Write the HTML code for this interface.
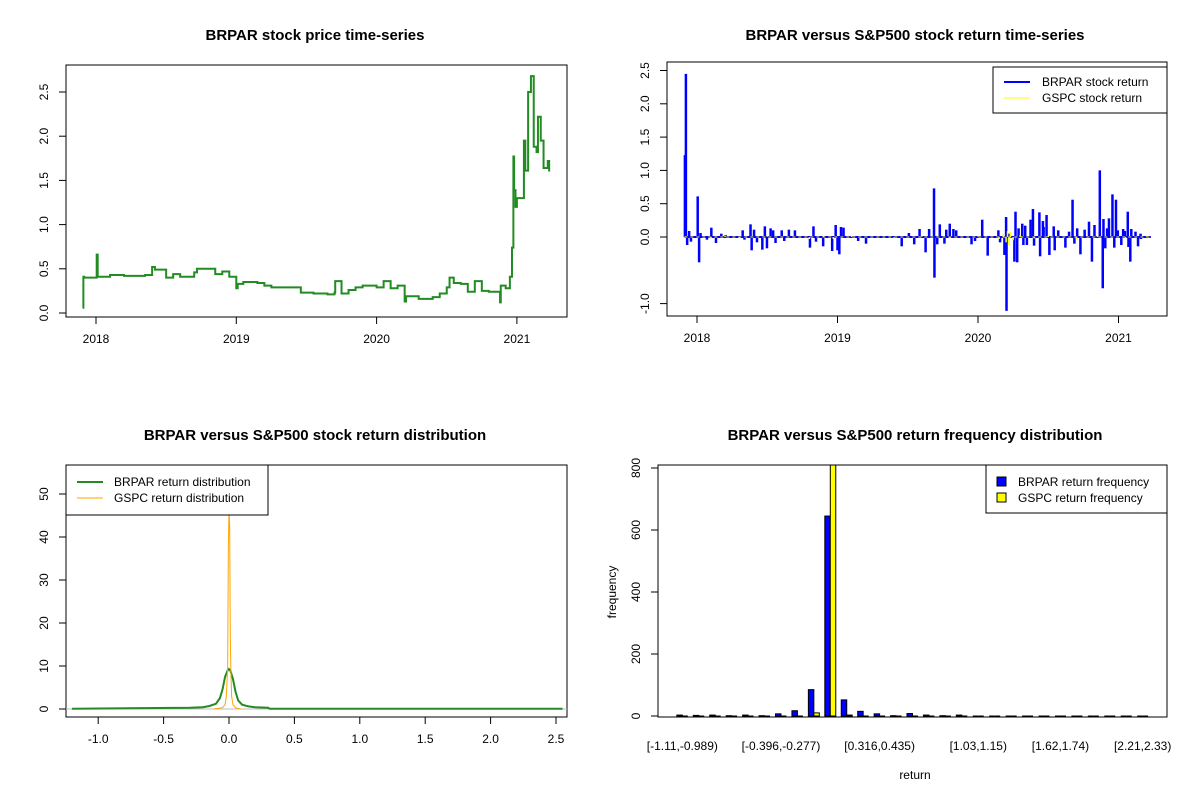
<!DOCTYPE html>
<html><head><meta charset="utf-8"><style>
body{margin:0;background:#fff}
svg{display:block;font-family:"Liberation Sans",Arial,sans-serif}
.t{font-weight:bold;font-size:15px;text-anchor:middle}
.tk{font-size:12px}
</style></head><body>
<svg id="c" width="1200" height="800" viewBox="0 0 1200 800"></svg>
<script>
// ---- Panel 1: price series
const priceYears=[2017.905,2017.91,2017.915,2018.0,2018.005,2018.012,2018.1,2018.2,2018.35,2018.4,2018.42,2018.5,2018.55,2018.6,2018.7,2018.72,2018.82,2018.85,2018.9,2018.95,2019.0,2019.01,2019.05,2019.15,2019.2,2019.25,2019.45,2019.46,2019.55,2019.65,2019.7,2019.705,2019.75,2019.8,2019.85,2019.9,2020.0,2020.05,2020.1,2020.15,2020.2,2020.21,2020.25,2020.3,2020.4,2020.45,2020.5,2020.52,2020.55,2020.6,2020.65,2020.7,2020.75,2020.8,2020.85,2020.88,2020.885,2020.92,2020.95,2020.965,2020.975,2020.98,2020.99,2021.0,2021.02,2021.05,2021.06,2021.08,2021.1,2021.12,2021.14,2021.15,2021.17,2021.19,2021.22,2021.23];
const priceVals=[0.06,0.41,0.40,0.40,0.66,0.41,0.43,0.42,0.43,0.52,0.49,0.40,0.44,0.41,0.46,0.50,0.50,0.44,0.47,0.41,0.28,0.33,0.35,0.34,0.31,0.29,0.29,0.23,0.22,0.21,0.23,0.36,0.22,0.26,0.29,0.31,0.29,0.36,0.28,0.31,0.13,0.19,0.19,0.16,0.18,0.22,0.29,0.40,0.34,0.33,0.24,0.36,0.25,0.24,0.24,0.12,0.31,0.28,0.41,0.74,1.77,1.39,1.20,1.30,1.30,1.95,1.61,2.50,2.68,1.88,1.82,2.22,1.95,1.64,1.72,1.60];
const priceYTicks=[0,0.5,1,1.5,2,2.5];
const yearTicks=[2018,2019,2020,2021];
// ---- Panel 2: returns
const retYears=[2017.914,2017.921,2017.93,2017.944,2017.957,2018.005,2018.015,2018.025,2018.071,2018.102,2018.135,2018.173,2018.203,2018.325,2018.338,2018.381,2018.389,2018.406,2018.427,2018.465,2018.483,2018.498,2018.524,2018.542,2018.559,2018.603,2018.621,2018.654,2018.697,2018.804,2018.829,2018.847,2018.898,2018.962,2018.987,2019.0,2019.013,2019.025,2019.043,2019.147,2019.203,2019.457,2019.508,2019.546,2019.584,2019.627,2019.652,2019.687,2019.690,2019.710,2019.728,2019.761,2019.774,2019.799,2019.825,2019.845,2019.954,2019.979,2020.030,2020.069,2020.145,2020.157,2020.188,2020.2,2020.203,2020.221,2020.259,2020.267,2020.279,2020.289,2020.315,2020.323,2020.336,2020.348,2020.374,2020.391,2020.399,2020.437,2020.442,2020.462,2020.467,2020.488,2020.508,2020.539,2020.546,2020.571,2020.622,2020.648,2020.673,2020.686,2020.706,2020.729,2020.759,2020.790,2020.811,2020.829,2020.867,2020.888,2020.893,2020.906,2020.919,2020.932,2020.957,2020.970,2020.982,2020.995,2021.020,2021.033,2021.045,2021.066,2021.071,2021.084,2021.091,2021.121,2021.139,2021.157,2021.160];
const retVals=[1.23,2.45,-0.12,0.09,-0.07,0.61,-0.38,0.06,-0.04,0.14,-0.09,0.05,0.03,0.1,-0.04,0.19,-0.2,0.11,-0.08,-0.19,0.16,-0.17,0.13,0.1,-0.09,0.1,-0.06,0.11,0.1,-0.16,0.16,-0.07,-0.14,-0.21,0.18,-0.2,-0.26,0.15,0.14,-0.06,-0.1,-0.14,0.06,-0.11,0.12,-0.23,0.12,0.73,-0.61,-0.11,0.19,-0.1,0.11,0.2,0.12,0.1,-0.11,-0.06,0.26,-0.28,0.1,-0.08,-0.27,0.3,-1.11,0.05,-0.37,0.38,-0.38,0.13,0.2,-0.12,0.17,-0.12,0.26,0.42,-0.13,0.37,-0.29,0.24,0.15,0.33,-0.27,0.16,-0.2,0.1,-0.16,0.08,0.56,-0.1,0.13,-0.26,0.11,0.23,-0.37,0.18,1.0,-0.77,0.27,-0.17,0.13,0.28,0.64,-0.16,0.56,0.1,-0.12,0.12,0.09,0.38,-0.15,-0.37,0.12,0.08,-0.14,0.05,-0.03];
const gspcYears=[2017.92,2018.1,2018.2,2018.3,2018.5,2018.8,2018.9,2018.97,2019.1,2019.4,2019.6,2019.8,2020.0,2020.15,2020.18,2020.2,2020.21,2020.22,2020.23,2020.25,2020.3,2020.4,2020.5,2020.7,2020.85,2020.95,2021.05,2021.2];
const gspcVals=[0.01,-0.02,0.02,-0.02,0.01,-0.03,0.02,-0.03,0.02,-0.01,0.01,-0.02,0.01,-0.03,0.04,-0.08,0.09,-0.12,0.07,-0.05,0.03,-0.02,0.02,-0.03,0.02,-0.01,-0.02,0.01];
const retYTicks=[-1,0,0.5,1,1.5,2,2.5];
// ---- Panel 3: densities
const brDensX=[-1.2,-0.3,-0.2,-0.15,-0.1,-0.07,-0.05,-0.03,-0.01,0,0.01,0.03,0.05,0.07,0.1,0.15,0.2,0.3,0.31,2.55];
const brDensY=[0.05,0.3,0.4,0.7,1.2,2.5,4.5,7.5,9,9.3,9,7,4,2,1,0.6,0.4,0.3,0.05,0.05];
const spDensX=[-0.12,-0.05,-0.03,-0.02,-0.01,-0.005,0,0.005,0.01,0.015,0.02,0.03,0.05,0.09];
const spDensY=[0,0.3,1,3,10,38,46,43,17,8,3,1,0.3,0];
const densXTicks=[-1,-0.5,0,0.5,1,1.5,2,2.5];
const densYTicks=[0,10,20,30,40,50];
// ---- Panel 4: histogram
const binLabels=["[-1.11,-0.989)","[-0.396,-0.277)","[0.316,0.435)","[1.03,1.15)","[1.62,1.74)","[2.21,2.33)"];
const binLabelIdx=[0,6,12,18,23,28];
const brFreq=[3,2,3,1,3,1,7,17,85,645,52,15,7,1,8,3,1,3,0,0,0,0,0,0,0,0,0,0,0];
const spFreq=[0,0,0,0,0,0,0,0,10,860,3,0,0,0,0,0,0,0,0,0,0,0,0,0,0,0,0,0,0];
const freqYTicks=[0,200,400,600,800];

const NS="http://www.w3.org/2000/svg", svg=document.getElementById('c');
function el(tag,at,parent){const e=document.createElementNS(NS,tag);for(const k in at)e.setAttribute(k,at[k]);(parent||svg).appendChild(e);return e;}
function txt(s,at,parent){const e=el('text',at,parent);e.textContent=s;return e;}
function box(x0,y0,x1,y1,name){const r=el('rect',{x:x0,y:y0,width:x1-x0,height:y1-y0,fill:'none',stroke:'#000','stroke-width':1});

}
function yAxis(ticks,sy,x0,fmt,name){const g=el('g',{});


ticks.forEach(t=>{const y=sy(t);el('line',{x1:x0-7,x2:x0,y1:y,y2:y,stroke:'#000'},g);
const tx=txt(fmt(t),{x:x0-22,y:y,'class':'tk','text-anchor':'middle','dominant-baseline':'central',transform:`rotate(-90 ${x0-22} ${y})`},g);

});
el('line',{x1:x0,x2:x0,y1:sy(ticks[0]),y2:sy(ticks[ticks.length-1]),stroke:'#000'},g);}
function xAxis(ticks,sx,y0,fmt,name){const g=el('g',{});


ticks.forEach(t=>{const x=sx(t);el('line',{x1:x,x2:x,y1:y0,y2:y0+7,stroke:'#000'},g);
const tx=txt(fmt(t),{x:x,y:y0+26,'class':'tk','text-anchor':'middle'},g);

});
el('line',{x1:sx(ticks[0]),x2:sx(ticks[ticks.length-1]),y1:y0,y2:y0,stroke:'#000'},g);}
function title(s,x,y,name){const t=txt(s,{x:x,y:y,'class':'t'});

}
const f1=v=>v.toFixed(1);

// Panel 1
{const sx=y=>96+(y-2018)*140.3, sy=v=>313-v*88.4;
title('BRPAR stock price time-series',315,40,'price-chart-title');
box(66,65,567,317,'price-plot-box');
yAxis(priceYTicks,sy,66,f1,'price-y-axis');
xAxis(yearTicks,sx,317,String,'price-x-axis');
let d='';priceYears.forEach((yr,i)=>{const x=sx(yr),y=sy(priceVals[i]);
if(i===0)d+=`M${x},${y}`;else d+=`H${x}V${y}`;});
const p=el('path',{d:d,fill:'none',stroke:'#228B22','stroke-width':2});

}

// Panel 2
{const sx=y=>697+(y-2018)*140.5, sy=v=>237-v*66.6;
title('BRPAR versus S&P500 stock return time-series',915,40,'returns-chart-title');
box(667,62,1167,316,'returns-plot-box');
yAxis(retYTicks,sy,667,v=>v.toFixed(1),'returns-y-axis');
xAxis(yearTicks,sx,316,String,'returns-x-axis');
el('line',{x1:sx(2017.91),x2:sx(2021.23),y1:sy(0),y2:sy(0),stroke:'#0000ff','stroke-width':2});
retYears.forEach((yr,i)=>{const l=el('line',{x1:sx(yr),x2:sx(yr),y1:sy(0),y2:sy(retVals[i]),stroke:'#0000ff','stroke-width':2.5});

});
el('line',{x1:sx(2017.91),x2:sx(2021.23),y1:sy(0),y2:sy(0),stroke:'#ffff00','stroke-width':1,'stroke-dasharray':'3 3'});
gspcYears.forEach((yr,i)=>{const l=el('line',{x1:sx(yr),x2:sx(yr),y1:sy(0),y2:sy(gspcVals[i]),stroke:'#ffff00','stroke-width':1.5});

});
const lg=el('g',{});


el('rect',{x:993,y:67,width:174,height:46,fill:'#fff',stroke:'#000'},lg);
el('line',{x1:1004,x2:1030,y1:82,y2:82,stroke:'#0000ff','stroke-width':2},lg);
el('line',{x1:1004,x2:1030,y1:98,y2:98,stroke:'#ffff00','stroke-width':1},lg);
txt('BRPAR stock return',{x:1042,y:86,'class':'tk'},lg);
txt('GSPC stock return',{x:1042,y:102,'class':'tk'},lg);}

// Panel 3
{const sx=v=>229+v*130.8, sy=v=>709-v*4.3;
title('BRPAR versus S&P500 stock return distribution',315,440,'density-chart-title');
box(66,465,567,717,'density-plot-box');
yAxis(densYTicks,sy,66,String,'density-y-axis');
xAxis(densXTicks,sx,717,f1,'density-x-axis');
el('line',{x1:66,x2:567,y1:sy(0),y2:sy(0),stroke:'#bebebe'});
const p1=el('polyline',{points:brDensX.map((x,i)=>sx(x)+','+sy(brDensY[i])).join(' '),fill:'none',stroke:'#228B22','stroke-width':2});


const p2=el('polyline',{points:spDensX.map((x,i)=>sx(x)+','+sy(spDensY[i])).join(' '),fill:'none',stroke:'#FFA500','stroke-width':1});


const lg=el('g',{});


el('rect',{x:66,y:465,width:202,height:50,fill:'#fff',stroke:'#000'},lg);
el('line',{x1:77,x2:103,y1:482,y2:482,stroke:'#228B22','stroke-width':2},lg);
el('line',{x1:77,x2:103,y1:498,y2:498,stroke:'#FFA500','stroke-width':1},lg);
txt('BRPAR return distribution',{x:114,y:486,'class':'tk'},lg);
txt('GSPC return distribution',{x:114,y:502,'class':'tk'},lg);}

// Panel 4
{const su=u=>658+(u+2.44)*5.48, sy=v=>716-v*0.31;
title('BRPAR versus S&P500 return frequency distribution',915,440,'histogram-chart-title');
yAxis(freqYTicks,sy,658,String,'frequency-y-axis');
const clip=el('clipPath',{id:'cp4'});el('rect',{x:658,y:465,width:509,height:252},clip);
const g=el('g',{'clip-path':'url(#cp4)'});
brFreq.forEach((v,i)=>{const x=su(3*i+1);
if(v>0){const r=el('rect',{x:x,y:sy(v),width:5.48,height:sy(0)-sy(v),fill:'#0000ff',stroke:'#000','stroke-width':1},g);

}
else{const l=el('line',{x1:x,x2:x+5.48,y1:sy(0),y2:sy(0),stroke:'#000'},g);

}});
spFreq.forEach((v,i)=>{const x=su(3*i+2);
if(v>0){const r=el('rect',{x:x,y:sy(v),width:5.48,height:sy(0)-sy(v),fill:'#ffff00',stroke:'#000','stroke-width':1},g);

}
else{const l=el('line',{x1:x,x2:x+5.48,y1:sy(0),y2:sy(0),stroke:'#000'},g);

}});
box(658,465,1167,717,'histogram-plot-box');
binLabelIdx.forEach((b,k)=>{const t=txt(binLabels[k],{x:su(3*b+2),y:750,'class':'tk','text-anchor':'middle'});

});
const xl=txt('return',{x:915,y:779,'class':'tk','text-anchor':'middle'});


const yl=txt('frequency',{x:616,y:592,'class':'tk','text-anchor':'middle',transform:'rotate(-90 616 592)'});


const lg=el('g',{});


el('rect',{x:986,y:465,width:181,height:48,fill:'#fff',stroke:'#000'},lg);
el('rect',{x:997,y:477,width:9,height:9,fill:'#0000ff',stroke:'#000'},lg);
el('rect',{x:997,y:493,width:9,height:9,fill:'#ffff00',stroke:'#000'},lg);
txt('BRPAR return frequency',{x:1018,y:486,'class':'tk'},lg);
txt('GSPC return frequency',{x:1018,y:502,'class':'tk'},lg);}
</script>
</body></html>
